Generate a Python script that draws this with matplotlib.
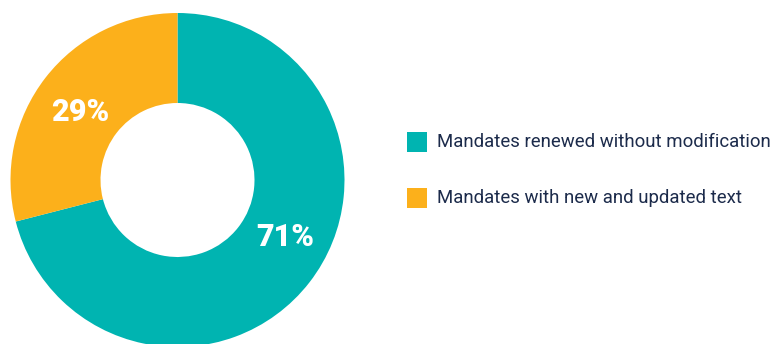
import matplotlib.pyplot as plt
from matplotlib.patches import Rectangle

labels = ['Mandates renewed without modification', 'Mandates with new and updated text']
shares = [71, 29]
colors = ['#00b4b1', '#fcb01b']
text_color = '#1c2b4b'

W, H = 779, 344
fig = plt.figure(figsize=(W / 100, H / 100), dpi=100)
ax = fig.add_axes([0, 0, 1, 1])

# donut drawn in pixel units (y measured from the bottom)
cx, cy, R, r = 177.5, 164, 167, 77
wedges, _ = ax.pie(shares, colors=colors, startangle=90, counterclock=False,
                   center=(cx, cy), radius=R,
                   wedgeprops=dict(width=R - r, linewidth=0))

label_pos = [(285, 107), (80, 232)]
for (x, y), s in zip(label_pos, shares):
    ax.text(x, y, f'{s}%', color='white', fontsize=22, fontweight='black',
            family='Roboto', ha='center', va='center')

# legend: coloured squares with labels
for i, (lab, c) in enumerate(zip(labels, colors)):
    y = H - (142 + i * 56)
    ax.add_patch(Rectangle((407, y - 10), 20, 20, color=c, linewidth=0))
    ax.text(437, y, lab, color=text_color, fontsize=13.4, family='Roboto',
            ha='left', va='center')

ax.set_xlim(0, W)
ax.set_ylim(0, H)
ax.set_aspect('auto')
ax.axis('off')
fig.savefig('out.png', dpi=100)
